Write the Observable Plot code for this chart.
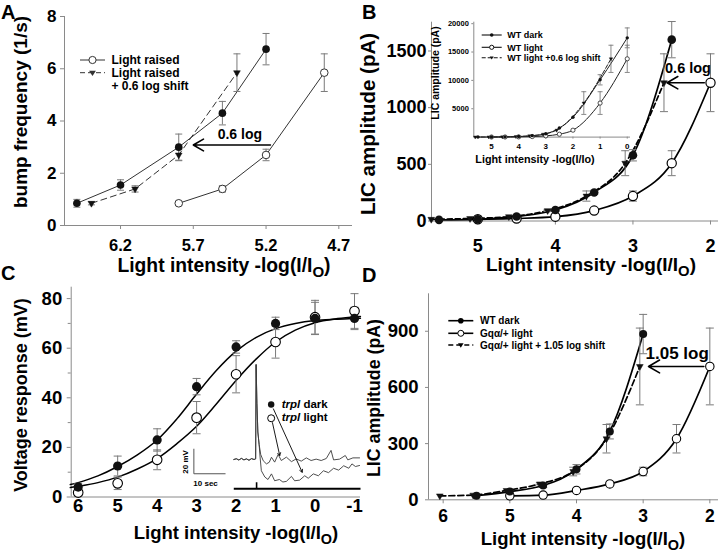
<!DOCTYPE html>
<html><head><meta charset="utf-8">
<script src="https://cdn.jsdelivr.net/npm/d3@7"></script>
<script src="https://cdn.jsdelivr.net/npm/@observablehq/plot@0.6"></script>
<style>
body{margin:0;background:#fff;}
#fig{position:relative;width:720px;height:554px;overflow:hidden;background:#fff;}
</style></head><body><div id="fig"></div>
<script>
// ---------- Panel A data ----------
const A_xTicks = [6.2, 5.7, 5.2, 4.7];
const A_yTicks = [0, 2, 4, 6, 8];
const A_dark_x = [6.5, 6.2, 5.8, 5.5, 5.2];
const A_dark_y = [0.85, 1.55, 3.0, 4.3, 6.75];
const A_dark_err = [0.15, 0.2, 0.5, 0.45, 0.6];
const A_light_x = [5.8, 5.5, 5.2, 4.8];
const A_light_y = [0.85, 1.4, 2.7, 5.85];
const A_light_err = [0.06, 0.12, 0.22, 0.72];
const A_shift_x = [6.4, 6.1, 5.8, 5.4];
const A_shift_y = [0.85, 1.4, 2.7, 5.85];
const A_shift_err = [0.06, 0.12, 0.22, 0.72];
const A_arrow = [{x1: 5.17, x2: 5.70, y: 3.08, tx: 5.38, ty: 3.5, label: "0.6 log"}];

// ---------- Panel B data ----------
const B_xTicks = [5, 4, 3, 2];
const B_yTicks = [0, 500, 1000, 1500];
const B_dark_x = [5.5, 5.0, 4.5, 4.0, 3.5, 3.0, 2.5];
const B_dark_y = [10, 15, 40, 97, 252, 580, 1600];
const B_dark_err = [0, 0, 0, 8, 15, 50, 160];
const B_light_x = [5.0, 4.5, 4.0, 3.5, 3.0, 2.5, 2.0];
const B_light_y = [15, 22, 38, 92, 220, 510, 1220];
const B_light_err = [0, 0, 0, 8, 45, 110, 255];
const B_shift_x = [5.6, 5.1, 4.6, 4.1, 3.6, 3.1, 2.6];
const B_shift_y = [15, 22, 38, 92, 220, 510, 1220];
const B_shift_err = [0, 0, 0, 8, 45, 110, 255];
const B_arrow = [{x1: 2.08, x2: 2.56, y: 1220, tx: 2.29, ty: 1345, label: "0.6 log"}];

// ---------- Panel B inset data ----------
const Bi_xTicks = [5, 4, 3, 2, 1, 0];
const Bi_yTicks = [5000, 10000, 15000, 20000];
const Bi_dark_x = [5.5, 5.0, 4.5, 4.0, 3.5, 3.0, 2.5, 2.0, 1.0, 0.0];
const Bi_dark_y = [10, 15, 40, 97, 252, 580, 1600, 3500, 10100, 17500];
const Bi_dark_err = [0, 0, 0, 0, 0, 0, 0, 0, 900, 1750];
const Bi_light_x = [5.0, 4.5, 4.0, 3.5, 3.0, 2.5, 2.0, 1.0, 0.0];
const Bi_light_y = [15, 22, 38, 92, 220, 510, 1220, 6000, 13800];
const Bi_light_err = [0, 0, 0, 0, 0, 0, 0, 2000, 2400];
const Bi_shift_x = [5.6, 5.1, 4.6, 4.1, 3.6, 3.1, 2.6, 1.6, 0.6];
const Bi_shift_y = [15, 22, 38, 92, 220, 510, 1220, 6000, 13800];
const Bi_shift_err = [0, 0, 0, 0, 0, 0, 0, 2000, 2400];

// ---------- Panel C data ----------
const C_xTicks = [6, 5, 4, 3, 2, 1, 0, -1];
const C_yTicks = [0, 20, 40, 60, 80];
const C_yMinor = [10, 30, 50, 70];
const C_x = [6, 5, 4, 3, 2, 1, 0, -1];
const C_dark_y = [4, 12.5, 23, 44.5, 60.5, 70, 72, 72];
const C_dark_err = [1.5, 4, 4.5, 3.3, 2.5, 2.5, 6.5, 4.5];
const C_light_y = [1.8, 5.5, 15, 32, 49.5, 62.5, 72.5, 75];
const C_light_err = [1.5, 2.5, 4, 6.5, 7.5, 6.5, 6.8, 7];
const C_fit_x = [6.2, 6, 5.5, 5, 4.5, 4, 3.5, 3, 2.5, 2, 1.5, 1, 0.5, 0, -0.5, -1, -1.15];
const C_fitDark_y = [5, 5.8, 8.5, 12.3, 17, 23, 31.5, 41.5, 51, 58.8, 64.3, 67.9, 70, 71.2, 71.7, 72, 72.1];
const C_fitLight_y = [3.8, 4.3, 5.8, 8, 11.3, 15.5, 21.5, 28.5, 37.5, 47, 55.5, 62.5, 67.3, 70.3, 71.8, 72.6, 72.8];
// voltage traces (time s, mV relative to baseline)
const C_pre_t = [0, 0.8, 1.6, 2.4, 3.2, 4.0, 4.8, 5.6, 6.4, 6.9, 7.05, 7.3, 7.6, 8.0];
const C_pre_v = [0, 0.6, -0.4, 0.9, -0.3, 0.5, -0.6, 0.7, 0, 0.5, 76, 45, 22, 12];
const C_up_t = [8.5, 9.3, 10.3, 11.2, 11.9, 12.9, 14.0, 15.0, 16.6, 18.2, 19.7, 21.3, 22.9, 24.4, 26.0, 27.6, 29.2, 30.7, 31.5, 33.4, 35.2, 36.0, 37.6, 39.7];
const C_up_v = [4, -1, -3.5, -2.2, 1.8, -2.1, 4, -0.8, 1.9, -1.7, 0.5, -1.3, 1.3, -0.8, 0.3, -0.8, 0.8, 7.3, -0.3, 0.3, 3.2, -0.3, 1.3, 1.3];
const C_low_t = [8.3, 8.7, 9.8, 10.8, 11.9, 12.9, 14.4, 15.5, 16.6, 18.2, 19.2, 20.8, 22.4, 23.5, 25.1, 26.7, 28.3, 29.9, 31.5, 33.1, 34.7, 36.3, 37.3, 38.4, 39.7];
const C_low_v = [2, -9, -14, -16, -11.5, -17, -16, -18, -17.5, -13.5, -17, -16.5, -13, -15, -11.5, -13, -9, -10.5, -7, -8.5, -5, -7, -3.5, -5.6, -4.8];
const C_scale = [{t: -12.6, v: -11.4, dt: 10, dv: 20}];
const C_stim = [{t1: 0, t2: 40, v: -23.4, tickT: 7.2, tickV: -18.2}];
const C_legArrows = [{t1: 12.5, v1: 40.5, t2: 21.6, v2: -10.2}, {t1: 12.2, v1: 29.5, t2: 14.5, v2: 3.2}];
const C_legDark = [{t: 11.8, v: 44}];
const C_legLight = [{t: 11.8, v: 33}];

// ---------- Panel D data ----------
const D_xTicks = [6, 5, 4, 3, 2];
const D_yTicks = [0, 300, 600, 900];
const D_dark_x = [5.5, 5.0, 4.5, 4.0, 3.5, 3.0];
const D_dark_y = [22, 44, 76, 163, 365, 885];
const D_dark_err = [0, 0, 10, 25, 40, 105];
const D_light_x = [5.0, 4.5, 4.0, 3.5, 3.0, 2.5, 2.0];
const D_light_y = [21, 25, 50, 85, 151, 326, 712];
const D_light_err = [0, 0, 0, 5, 23, 76, 205];
const D_shift_x = [6.05, 5.55, 5.05, 4.55, 4.05, 3.55, 3.05];
const D_shift_y = [21, 25, 50, 85, 151, 326, 712];
const D_shift_err = [0, 0, 0, 5, 23, 76, 205];
const D_arrow = [{x1: 2.09, x2: 2.92, y: 712, tx: 2.49, ty: 782, label: "1.05 log"}];

// ---------- helpers ----------
const FONT = '"Liberation Sans", Arial, Helvetica, sans-serif';
const AX = "#8a8a8a", ERR = "#7a7a7a";
const fig = document.getElementById("fig");
const styleStr = `font-family:${FONT};font-weight:bold;background:none;overflow:visible;`;
function place(el, left, top) { el.style.position = "absolute"; el.style.left = left + "px"; el.style.top = top + "px"; fig.appendChild(el); }
const tbl = (xs, ys, es) => xs.map((x, i) => ({x, y: ys[i], e: es ? es[i] : 0}));
const capSym = {draw(ctx, size) { const w = Math.sqrt(size / Math.PI); ctx.moveTo(-w, 0); ctx.lineTo(w, 0); }};
function errBars(data, r = 3.5, sw = 1) {
  const d = data.filter(p => p.e > 0);
  return [
    Plot.ruleX(d, {x: "x", y1: p => p.y - p.e, y2: p => p.y + p.e, stroke: ERR, strokeWidth: sw}),
    Plot.dot(d, {x: "x", y: p => p.y + p.e, symbol: capSym, r, fill: "none", stroke: ERR, strokeWidth: sw}),
    Plot.dot(d, {x: "x", y: p => p.y - p.e, symbol: capSym, r, fill: "none", stroke: ERR, strokeWidth: sw})
  ];
}
const fmt = d => String(d);

// ---------- Panel A ----------
const A_dark = tbl(A_dark_x, A_dark_y, A_dark_err);
const A_light = tbl(A_light_x, A_light_y, A_light_err);
const A_shift = tbl(A_shift_x, A_shift_y, A_shift_err);
const A_xDom = [6.585, 4.606];
place(Plot.plot({
  width: 360, height: 280, marginLeft: 64, marginRight: 8, marginTop: 16, marginBottom: 55,
  style: styleStr,
  x: {domain: A_xDom, label: null}, y: {domain: [0, 8], label: null},
  marks: [
    Plot.ruleY([0], {stroke: AX}), Plot.ruleX([A_xDom[0]], {stroke: AX}),
    Plot.axisX(A_xTicks, {tickSize: 4, tickPadding: 10, fontSize: 16.5, stroke: AX, fill: "black", tickFormat: d => d.toFixed(1), label: null}),
    Plot.axisY(A_yTicks, {tickSize: 4, tickPadding: 4, fontSize: 17, stroke: AX, fill: "black", tickFormat: fmt, label: null}),
    Plot.line(A_shift, {x: "x", y: "y", stroke: "#333", strokeWidth: 1, strokeDasharray: "6,4"}),
    Plot.line(A_light, {x: "x", y: "y", stroke: "#333", strokeWidth: 1}),
    Plot.line(A_dark, {x: "x", y: "y", stroke: "#333", strokeWidth: 1}),
    ...errBars(A_dark), ...errBars(A_light), ...errBars(A_shift),
    Plot.dot(A_shift, {x: "x", y: "y", symbol: "triangle", rotate: 180, r: 2.5, fill: "#111", stroke: "#111", strokeWidth: 0.5}),
    Plot.dot(A_light, {x: "x", y: "y", r: 3.8, fill: "white", stroke: "#333", strokeWidth: 1}),
    Plot.dot(A_dark, {x: "x", y: "y", r: 3.8, fill: "#111"}),
    Plot.arrow(A_arrow, {x1: "x1", x2: "x2", y1: "y", y2: "y", stroke: "black", strokeWidth: 1.6, headLength: 11}),
    Plot.text(A_arrow, {x: "tx", y: "ty", text: "label", fontSize: 14})
  ]
}), 0, 0);

// ---------- Panel B ----------
const B_dark = tbl(B_dark_x, B_dark_y, B_dark_err);
const B_light = tbl(B_light_x, B_light_y, B_light_err);
const B_shift = tbl(B_shift_x, B_shift_y, B_shift_err);
const B_xDom = [5.597, 1.897];
place(Plot.plot({
  width: 360, height: 280, marginLeft: 71, marginRight: 2, marginTop: 21.7, marginBottom: 59.5,
  style: styleStr,
  x: {domain: B_xDom, label: null}, y: {domain: [0, 1754], label: null},
  marks: [
    Plot.ruleY([0], {stroke: AX}), Plot.ruleX([B_xDom[0]], {stroke: AX}),
    Plot.axisX(B_xTicks, {tickSize: 4, tickPadding: 14, fontSize: 18, stroke: AX, fill: "black", tickFormat: fmt, label: null}),
    Plot.axisY(B_yTicks, {tickSize: 3, tickPadding: 2, fontSize: 18, stroke: AX, fill: "black", tickFormat: fmt, label: null}),
    Plot.line(B_light, {x: "x", y: "y", curve: "monotone-x", stroke: "black", strokeWidth: 1.7}),
    Plot.line(B_shift, {x: "x", y: "y", curve: "monotone-x", stroke: "black", strokeWidth: 1.7, strokeDasharray: "5,3"}),
    Plot.line(B_dark, {x: "x", y: "y", curve: "monotone-x", stroke: "black", strokeWidth: 1.7}),
    ...errBars(B_dark, 4), ...errBars(B_light, 4), ...errBars(B_shift, 4),
    Plot.dot(B_shift, {x: "x", y: "y", symbol: "triangle", rotate: 180, r: 2.5, fill: "#111", stroke: "#111", strokeWidth: 0.5}),
    Plot.dot(B_light, {x: "x", y: "y", r: 4.6, fill: "white", stroke: "black", strokeWidth: 1.2}),
    Plot.dot(B_dark, {x: "x", y: "y", r: 4.3, fill: "#111"}),
    Plot.arrow(B_arrow, {x1: "x1", x2: "x2", y1: "y", y2: "y", stroke: "black", strokeWidth: 1.6, headLength: 12}),
    Plot.text(B_arrow, {x: "tx", y: "ty", text: "label", fontSize: 14.5})
  ]
}), 360, 0);

// ---------- Panel B inset ----------
const Bi_dark = tbl(Bi_dark_x, Bi_dark_y, Bi_dark_err);
const Bi_light = tbl(Bi_light_x, Bi_light_y, Bi_light_err);
const Bi_shift = tbl(Bi_shift_x, Bi_shift_y, Bi_shift_err);
const Bi_xDom = [5.652, -0.12];
place(Plot.plot({
  width: 210, height: 160, marginLeft: 43.3, marginRight: 10, marginTop: 6.7, marginBottom: 38.4,
  style: styleStr,
  x: {domain: Bi_xDom, label: null}, y: {domain: [0, 20260], label: null},
  marks: [
    Plot.ruleY([0], {stroke: AX}), Plot.ruleX([Bi_xDom[0]], {stroke: AX}),
    Plot.axisX(Bi_xTicks, {tickSize: 2, tickPadding: 4, fontSize: 8, stroke: AX, fill: "black", tickFormat: fmt, label: null}),
    Plot.axisY(Bi_yTicks, {tickSize: 2, tickPadding: 3, fontSize: 7.5, stroke: AX, fill: "black", tickFormat: fmt, label: null}),
    Plot.line(Bi_light, {x: "x", y: "y", curve: "monotone-x", stroke: "#222", strokeWidth: 1}),
    Plot.line(Bi_shift, {x: "x", y: "y", curve: "monotone-x", stroke: "#222", strokeWidth: 1, strokeDasharray: "4,2"}),
    Plot.line(Bi_dark, {x: "x", y: "y", curve: "monotone-x", stroke: "#222", strokeWidth: 1}),
    ...errBars(Bi_dark, 2.5, 0.9), ...errBars(Bi_light, 2.5, 0.9), ...errBars(Bi_shift, 2.5, 0.9),
    Plot.dot(Bi_shift, {x: "x", y: "y", symbol: "triangle", rotate: 180, r: 1.3, fill: "#111", stroke: "#111", strokeWidth: 0.4}),
    Plot.dot(Bi_light, {x: "x", y: "y", r: 2.1, fill: "white", stroke: "#222", strokeWidth: 0.8}),
    Plot.dot(Bi_dark, {x: "x", y: "y", r: 1.7, fill: "#111"})
  ]
}), 430, 15);

// ---------- Panel C ----------
const C_dark = tbl(C_x, C_dark_y, C_dark_err);
const C_light = tbl(C_x, C_light_y, C_light_err);
const C_fitDark = tbl(C_fit_x, C_fitDark_y);
const C_fitLight = tbl(C_fit_x, C_fitLight_y);
const C_xDom = [6.177, -1.152];
place(Plot.plot({
  width: 360, height: 284, marginLeft: 70.7, marginRight: 0, marginTop: 16.7, marginBottom: 57.5,
  style: styleStr,
  x: {domain: C_xDom, label: null}, y: {domain: [0, 84.6], label: null},
  marks: [
    Plot.ruleY([0], {stroke: AX}), Plot.ruleX([C_xDom[0]], {stroke: AX}),
    Plot.axisX(C_xTicks, {tickSize: 0, tickPadding: 2, fontSize: 18.5, stroke: AX, fill: "black", tickFormat: fmt, label: null}),
    Plot.axisY(C_yTicks, {tickSize: 4, tickPadding: 5, fontSize: 18.5, stroke: AX, fill: "black", tickFormat: fmt, label: null}),
    Plot.axisY(C_yMinor, {tickSize: 3, tickPadding: 5, stroke: AX, tickFormat: () => "", label: null}),
    Plot.line(C_fitDark, {x: "x", y: "y", curve: "catmull-rom", stroke: "black", strokeWidth: 1.5}),
    Plot.line(C_fitLight, {x: "x", y: "y", curve: "catmull-rom", stroke: "black", strokeWidth: 1.5}),
    ...errBars(C_dark, 4), ...errBars(C_light, 4),
    Plot.dot(C_light, {x: "x", y: "y", r: 4.8, fill: "white", stroke: "black", strokeWidth: 1.1}),
    Plot.dot(C_dark, {x: "x", y: "y", r: 4.6, fill: "#111"})
  ]
}), 0, 270);

// ---------- Panel C traces inset ----------
const C_pre = C_pre_t.map((t, i) => ({t, v: C_pre_v[i]}));
const C_up = C_pre.concat(C_up_t.map((t, i) => ({t, v: C_up_v[i]})));
const C_low = C_pre.concat(C_low_t.map((t, i) => ({t, v: C_low_v[i]})));
place(Plot.plot({
  width: 360, height: 284, marginLeft: 192.1, marginRight: 0, marginTop: 89, marginBottom: 63.75,
  style: styleStr,
  x: {domain: [-13, 40], axis: null}, y: {domain: [-25, 80], axis: null},
  marks: [
    Plot.line(C_low, {x: "t", y: "v", stroke: "#3a3a3a", strokeWidth: 0.9}),
    Plot.line(C_up, {x: "t", y: "v", stroke: "#3a3a3a", strokeWidth: 0.9}),
    Plot.link(C_scale, {x1: "t", x2: "t", y1: "v", y2: d => d.v + d.dv, stroke: "#555", strokeWidth: 1}),
    Plot.link(C_scale, {x1: "t", x2: d => d.t + d.dt, y1: "v", y2: "v", stroke: "#555", strokeWidth: 1}),
    Plot.text(C_scale, {x: d => d.t - 2.6, y: d => d.v + d.dv / 2 - 0.5, text: () => "20 mV", rotate: -90, fontSize: 8}),
    Plot.text(C_scale, {x: d => d.t + 3.7, y: d => d.v - 8.1, text: () => "10 sec", fontSize: 8}),
    Plot.link(C_stim, {x1: "t1", x2: "t2", y1: "v", y2: "v", stroke: "black", strokeWidth: 2.2}),
    Plot.link(C_stim, {x1: "tickT", x2: "tickT", y1: "v", y2: "tickV", stroke: "black", strokeWidth: 1.6}),
    Plot.arrow(C_legArrows, {x1: "t1", y1: "v1", x2: "t2", y2: "v2", stroke: "black", strokeWidth: 0.9, headLength: 5}),
    Plot.dot(C_legDark, {x: "t", y: "v", r: 3.2, fill: "#111"}),
    Plot.dot(C_legLight, {x: "t", y: "v", r: 3.5, fill: "white", stroke: "black", strokeWidth: 1})
  ]
}), 0, 270);

// ---------- Panel D ----------
const D_dark = tbl(D_dark_x, D_dark_y, D_dark_err);
const D_light = tbl(D_light_x, D_light_y, D_light_err);
const D_shift = tbl(D_shift_x, D_shift_y, D_shift_err);
const D_xDom = [6.22, 1.87];
place(Plot.plot({
  width: 360, height: 284, marginLeft: 68, marginRight: 2, marginTop: 23.3, marginBottom: 54.7,
  style: styleStr,
  x: {domain: D_xDom, label: null}, y: {domain: [0, 1100], label: null},
  marks: [
    Plot.ruleY([0], {stroke: AX}), Plot.ruleX([D_xDom[0]], {stroke: AX}),
    Plot.axisX(D_xTicks, {tickSize: 4, tickPadding: 6, fontSize: 17.5, stroke: AX, fill: "black", tickFormat: fmt, label: null}),
    Plot.axisY(D_yTicks, {tickSize: 3, tickPadding: 7, fontSize: 18.5, stroke: AX, fill: "black", tickFormat: fmt, label: null}),
    Plot.line(D_light, {x: "x", y: "y", curve: "monotone-x", stroke: "black", strokeWidth: 1.7}),
    Plot.line(D_shift, {x: "x", y: "y", curve: "monotone-x", stroke: "black", strokeWidth: 1.7, strokeDasharray: "6,3"}),
    Plot.line(D_dark, {x: "x", y: "y", curve: "monotone-x", stroke: "black", strokeWidth: 1.7}),
    ...errBars(D_dark, 4), ...errBars(D_light, 4), ...errBars(D_shift, 4),
    Plot.dot(D_shift, {x: "x", y: "y", symbol: "triangle", rotate: 180, r: 2.5, fill: "#111", stroke: "#111", strokeWidth: 0.5}),
    Plot.dot(D_light, {x: "x", y: "y", r: 4.2, fill: "white", stroke: "black", strokeWidth: 1.1}),
    Plot.dot(D_dark, {x: "x", y: "y", r: 4, fill: "#111"}),
    Plot.arrow(D_arrow, {x1: "x1", x2: "x2", y1: "y", y2: "y", stroke: "black", strokeWidth: 1.6, headLength: 12}),
    Plot.text(D_arrow, {x: "tx", y: "ty", text: "label", fontSize: 17})
  ]
}), 360, 270);

// ---------- text overlay: letters, axis titles, legends ----------
const ov = d3.create("svg").attr("width", 720).attr("height", 554)
  .attr("style", `position:absolute;left:0;top:0;font-family:${FONT};font-weight:bold;overflow:visible;pointer-events:none`);
fig.appendChild(ov.node());
function T(x, y, s, size, anchor = "start", rot = 0) {
  const t = ov.append("text").attr("font-size", size).attr("text-anchor", anchor);
  if (rot) t.attr("transform", `translate(${x},${y}) rotate(${rot})`); else t.attr("x", x).attr("y", y);
  if (s) t.text(s);
  return t;
}
function titleX(x, y, size, sub) {
  const t = T(x, y, null, size, "middle");
  t.append("tspan").text("Light intensity -log(I/I");
  if (sub) {
    t.append("tspan").attr("dy", size * 0.25).attr("font-size", size * 0.78).text("O");
    t.append("tspan").attr("dy", -size * 0.25).text(")");
  } else t.append("tspan").text("o)");
}
// panel letters
T(1, 19, "A", 20); T(362, 19, "B", 20); T(1, 280, "C", 20); T(362, 282, "D", 20);
// axis titles
titleX(224, 272, 19.3, true);
T(27, 112, "bump frequency (1/s)", 19, "middle", -90);
titleX(591, 271, 19, true);
T(375, 124, "LIC amplitude (pA)", 20.5, "middle", -90);
titleX(236, 539, 18.5, true);
T(27, 395, "Voltage response (mV)", 18, "middle", -90);
titleX(583, 545, 18.5, true);
T(380, 398, "LIC amplitude (pA)", 17.8, "middle", -90);
// inset titles
T(439, 73, "LIC amplitude (pA)", 10.5, "middle", -90);
titleX(535, 163, 10.8, false);

function marker(kind, cx, cy, r, col = "black") {
  if (kind === "filled") ov.append("circle").attr("cx", cx).attr("cy", cy).attr("r", r).attr("fill", col);
  else if (kind === "open") ov.append("circle").attr("cx", cx).attr("cy", cy).attr("r", r).attr("fill", "white").attr("stroke", col).attr("stroke-width", 1);
  else if (kind === "tri") ov.append("path").attr("d", `M${cx - r},${cy - r * 0.6}L${cx + r},${cy - r * 0.6}L${cx},${cy + r * 0.95}Z`).attr("fill", col);
}
function legRow(x1, x2, y, dash, kind, r, label, fs, tx, col = "black", sw = 1.3) {
  ov.append("line").attr("x1", x1).attr("x2", x2).attr("y1", y).attr("y2", y)
    .attr("stroke", col).attr("stroke-width", sw).attr("stroke-dasharray", dash || null);
  marker(kind, (x1 + x2) / 2, y, r, col);
  if (label) T(tx, y + fs * 0.36, label, fs);
}
// legend A
legRow(80, 105, 60, null, "open", 3.6, "Light raised", 12, 111.5, "#333", 1);
legRow(80, 105, 72.7, "5,3", "tri", 3.4, "Light raised", 12, 111.5, "#333", 1);
T(111.5, 90.3, "+ 0.6 log shift", 12);
// legend B inset
legRow(481.7, 501.7, 35, null, "filled", 1.8, "WT dark", 9, 507.3, "#111", 1.1);
legRow(481.7, 501.7, 47.3, null, "open", 2.1, "WT light", 9, 507.3, "#111", 1.1);
legRow(481.7, 501.7, 57.7, "4,2", "tri", 2, "WT light +0.6 log shift", 9, 507.3, "#111", 1.1);
// legend C
{
  const t1 = T(281.7, 407.5, null, 11.5);
  t1.append("tspan").attr("font-style", "italic").text("trpl");
  t1.append("tspan").text(" dark");
  const t2 = T(281.7, 420.5, null, 11.5);
  t2.append("tspan").attr("font-style", "italic").text("trpl");
  t2.append("tspan").text(" light");
}
// legend D
legRow(448.3, 473.3, 320.7, null, "filled", 2.8, "WT dark", 10, 480, "black", 1.6);
legRow(448.3, 473.3, 333.3, null, "open", 3, "Gq\u03b1/+ light", 10, 480, "black", 1.6);
legRow(448.3, 473.3, 345, "5,3", "tri", 2.8, "Gq\u03b1/+ light + 1.05 log shift", 10, 480, "black", 1.6);
</script></body></html>
